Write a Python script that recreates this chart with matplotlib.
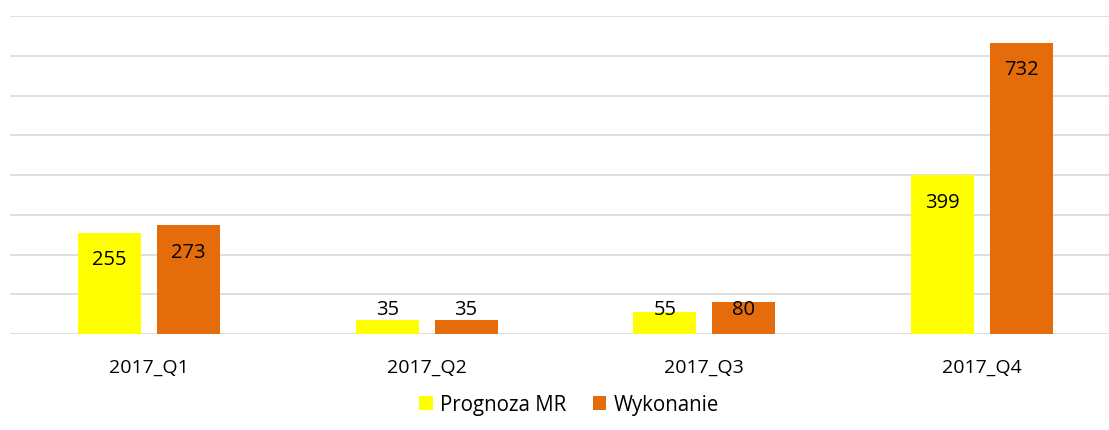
import numpy as np
import matplotlib
matplotlib.use("Agg")
from matplotlib import pyplot as plt
from matplotlib.patches import Patch

categories = ["2017_Q1", "2017_Q2", "2017_Q3", "2017_Q4"]
prognoza = [255, 35, 55, 399]
wykonanie = [273, 35, 80, 732]
series_names = ["Prognoza MR", "Wykonanie"]

plt.rcParams['font.family'] = ['Open Sans', 'DejaVu Sans']

fig = plt.figure(figsize=(11.09, 4.30), dpi=100)
ax = fig.add_axes([10 / 1109, (430 - 334) / 430, 1 - 10 / 1109, (334 - 16) / 430])

x = np.arange(len(categories))
w = 0.227
off = 0.142
colors = ["#FFFF00", "#E46C0A"]

for vals, dx, col in [(prognoza, -off, colors[0]), (wykonanie, off, colors[1])]:
    ax.bar(x + dx, vals, width=w, color=col, zorder=3)
    for xi, v in zip(x + dx, vals):
        # inside-end label, kept above the baseline for short bars
        ax.text(xi, max(v - 69, 60), str(v), ha='center', va='center',
                fontsize=14.5, color='black', zorder=4)

ax.set_xlim(-0.5, 3.457)
ax.set_ylim(0, 800)
ax.set_yticks(np.arange(0, 801, 100))
ax.yaxis.grid(True, color='#d9d9d9', linewidth=1.2, zorder=0)
ax.tick_params(left=False, labelleft=False, bottom=False)
ax.set_xticks(x)
ax.set_xticklabels(categories, fontsize=14)
ax.tick_params(axis='x', pad=14)
for s in ax.spines.values():
    s.set_visible(False)

handles = [Patch(facecolor=c, edgecolor='none') for c in colors]
fig.legend(handles, series_names, loc='center', bbox_to_anchor=(0.513, 1 - 405 / 430),
           ncol=2, frameon=False, fontsize=14.8, handlelength=0.65, handleheight=0.65,
           handletextpad=0.35, columnspacing=1.3)

fig.savefig("out.png", dpi=100)
